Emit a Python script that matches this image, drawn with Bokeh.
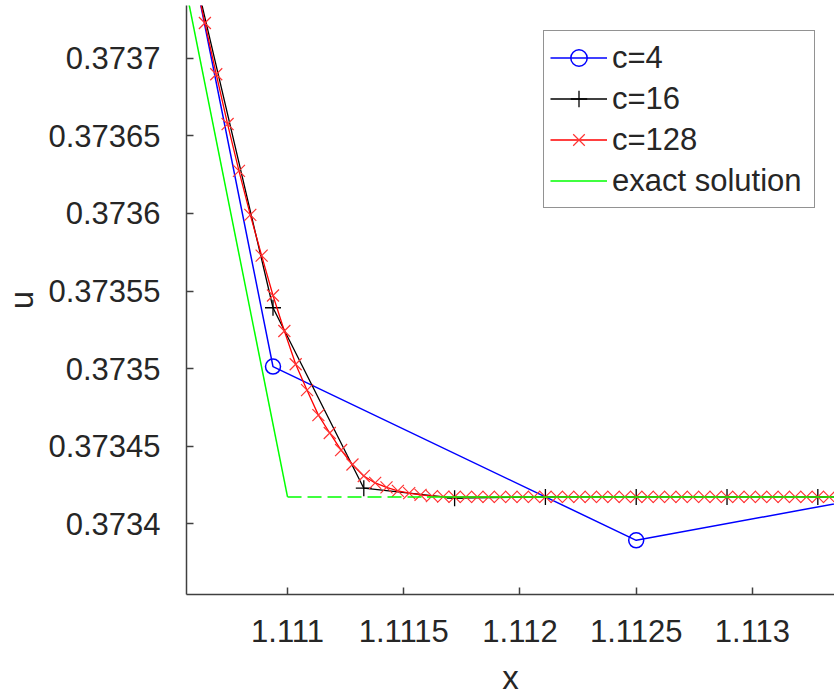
from bokeh.plotting import figure
from bokeh.models import FixedTicker, Legend, LegendItem, Range1d
from bokeh.embed import file_html
from bokeh.resources import INLINE

# ---------------- data ----------------
x_c4 = [1.109375, 1.1109375, 1.1125, 1.1140625]
u_c4 = [0.3746726, 0.3735013, 0.3733893, 0.3734324]

x_c16 = [1.110546875, 1.1109375, 1.111328125, 1.11171875, 1.112109375,
         1.1125, 1.112890625, 1.11328125, 1.113671875]
u_c16 = [0.3737886, 0.3735392, 0.3734229, 0.3734165, 0.3734173,
         0.3734173, 0.3734173, 0.3734173, 0.3734173]

x_c128 = [1.110595703, 1.110644531, 1.110693359, 1.110742188, 1.110791016,
          1.110839844, 1.110888672, 1.1109375, 1.110986328, 1.111035156,
          1.111083984, 1.111132813, 1.111181641, 1.111230469, 1.111279297,
          1.111328125, 1.111376953, 1.111425781, 1.111474609, 1.111523438,
          1.111572266, 1.111621094, 1.111669922, 1.11171875, 1.111767578,
          1.111816406, 1.111865234, 1.111914063, 1.111962891, 1.112011719,
          1.112060547, 1.112109375, 1.112158203, 1.112207031, 1.112255859,
          1.112304688, 1.112353516, 1.112402344, 1.112451172, 1.1125,
          1.112548828, 1.112597656, 1.112646484, 1.112695313, 1.112744141,
          1.112792969, 1.112841797, 1.112890625, 1.112939453, 1.112988281,
          1.113037109, 1.113085938, 1.113134766, 1.113183594, 1.113232422,
          1.11328125, 1.113330078, 1.113378906]
u_c128 = [0.3737559, 0.3737227, 0.3736897, 0.3736576, 0.3736274,
          0.3735991, 0.3735728, 0.3735471, 0.3735242, 0.3735028,
          0.3734861, 0.3734700, 0.3734585, 0.3734475, 0.3734382,
          0.3734308, 0.3734263, 0.3734234, 0.3734212, 0.3734197,
          0.3734186, 0.3734178, 0.3734175, 0.3734173, 0.3734173,
          0.3734173, 0.3734173, 0.3734173, 0.3734173, 0.3734173,
          0.3734173, 0.3734173, 0.3734173, 0.3734173, 0.3734173,
          0.3734173, 0.3734173, 0.3734173, 0.3734173, 0.3734173,
          0.3734173, 0.3734173, 0.3734173, 0.3734173, 0.3734173,
          0.3734173, 0.3734173, 0.3734173, 0.3734173, 0.3734173,
          0.3734173, 0.3734173, 0.3734173, 0.3734173, 0.3734173,
          0.3734173, 0.3734173, 0.3734173]

x_exact = [1.1105, 1.111]
u_exact = [0.373792, 0.3734173]
x_exact_dash = [1.111, 1.1116]
u_exact_dash = [0.3734173, 0.3734173]
x_exact_flat = [1.1116, 1.11338]
u_exact_flat = [0.3734173, 0.3734173]

x_ticks = [1.111, 1.1115, 1.112, 1.1125, 1.113]
x_tick_labels = ["1.111", "1.1115", "1.112", "1.1125", "1.113"]
u_ticks = [0.3734, 0.37345, 0.3735, 0.37355, 0.3736, 0.37365, 0.3737]
u_tick_labels = ["0.3734", "0.37345", "0.3735", "0.37355", "0.3736", "0.37365", "0.3737"]
legend_labels = ["c=4", "c=16", "c=128", "exact solution"]
x_label = "x"
u_label = "u"

# ---------------- figure ----------------
FONT = "Liberation Sans"
TXT = "#262626"

p = figure(width=834, height=698, title=None,
           x_range=Range1d(1.1105654, 1.113353),
           y_range=Range1d(0.3733544, 0.373734),
           output_backend="svg", toolbar_location=None,
           min_border_left=186, min_border_right=0,
           min_border_top=5, min_border_bottom=102)
p.outline_line_color = None
p.grid.visible = False
p.background_fill_color = "white"
p.border_fill_color = "white"

for ax, ticks, labels, standoff, lab, lab_standoff in (
        (p.xaxis[0], x_ticks, x_tick_labels, 25, x_label, 14),
        (p.yaxis[0], u_ticks, u_tick_labels, 26, u_label, 5)):
    ax.ticker = FixedTicker(ticks=ticks)
    ax.major_label_overrides = {t: l for t, l in zip(ticks, labels)}
    ax.major_label_text_font = FONT
    ax.major_label_text_font_size = "31px"
    ax.major_label_text_color = TXT
    ax.major_label_standoff = standoff
    ax.major_tick_in = 7
    ax.major_tick_out = 0
    ax.minor_tick_line_color = None
    ax.axis_line_color = "#404040"
    ax.axis_line_width = 1.5
    ax.major_tick_line_color = "#404040"
    ax.major_tick_line_width = 1.5
    ax.axis_label = lab
    ax.axis_label_text_font = FONT
    ax.axis_label_text_font_size = "33px"
    ax.axis_label_text_font_style = "normal"
    ax.axis_label_text_color = TXT
    ax.axis_label_standoff = lab_standoff

# series
l4 = p.line(x_c4, u_c4, line_color="#0000ff", line_width=1.5)
m4 = p.scatter(x_c4, u_c4, marker="circle", size=15, fill_color=None,
               line_color="#0000ff", line_width=1.5)
l16 = p.line(x_c16, u_c16, line_color="#000000", line_width=1.3)
m16 = p.scatter(x_c16, u_c16, marker="cross", size=16,
                line_color="#000000", line_width=1.3)
l128 = p.line(x_c128, u_c128, line_color="#ff0000", line_width=1.3)
m128 = p.scatter(x_c128, u_c128, marker="x", size=17,
                 line_color="#ff3333", line_width=1.2)
le = p.line(x_exact, u_exact, line_color="#00ff00", line_width=1.5)
p.line(x_exact_dash, u_exact_dash, line_color="#00ff00", line_width=1.5,
       line_dash="14 6")
p.line(x_exact_flat, u_exact_flat, line_color="#00ff00", line_width=1.5)

legend = Legend(items=[
    LegendItem(label=legend_labels[0], renderers=[l4, m4]),
    LegendItem(label=legend_labels[1], renderers=[l16, m16]),
    LegendItem(label=legend_labels[2], renderers=[l128, m128]),
    LegendItem(label=legend_labels[3], renderers=[le]),
], location=(357, 386))
legend.label_text_font = FONT
legend.label_text_font_size = "31px"
legend.label_text_color = TXT
legend.glyph_width = 57
legend.glyph_height = 41
legend.label_height = 41
legend.label_width = 196
legend.label_standoff = 5
legend.padding = 6
legend.spacing = 0
legend.margin = 0
legend.border_line_color = TXT
legend.border_line_width = 1
legend.background_fill_color = "white"
legend.background_fill_alpha = 1
p.add_layout(legend, "center")

open("out.html", "w").write(file_html(p, INLINE))
